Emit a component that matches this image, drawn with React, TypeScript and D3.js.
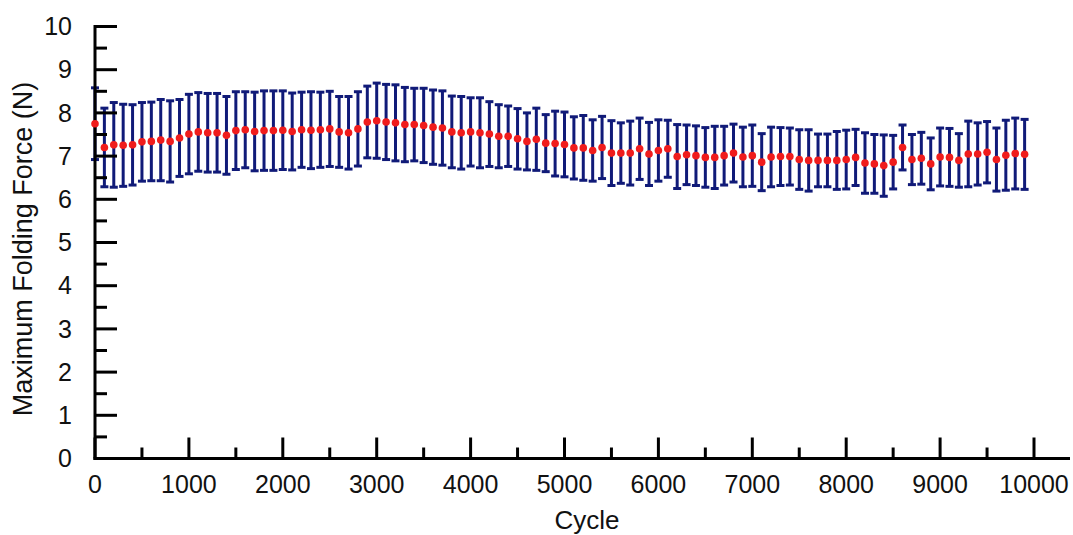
import * as d3 from "d3";

// cycle number of each measurement
const cycles = [
  0, 100, 200, 300, 400, 500, 600, 700, 800, 900,
  1000, 1100, 1200, 1300, 1400, 1500, 1600, 1700, 1800, 1900,
  2000, 2100, 2200, 2300, 2400, 2500, 2600, 2700, 2800, 2900,
  3000, 3100, 3200, 3300, 3400, 3500, 3600, 3700, 3800, 3900,
  4000, 4100, 4200, 4300, 4400, 4500, 4600, 4700, 4800, 4900,
  5000, 5100, 5200, 5300, 5400, 5500, 5600, 5700, 5800, 5900,
  6000, 6100, 6200, 6300, 6400, 6500, 6600, 6700, 6800, 6900,
  7000, 7100, 7200, 7300, 7400, 7500, 7600, 7700, 7800, 7900,
  8000, 8100, 8200, 8300, 8400, 8500, 8600, 8700, 8800, 8900,
  9000, 9100, 9200, 9300, 9400, 9500, 9600, 9700, 9800, 9900,
];

// mean maximum folding force (N)
const meanForce = [
  7.75, 7.2, 7.26, 7.25, 7.26, 7.33, 7.34, 7.37, 7.34, 7.42,
  7.51, 7.56, 7.54, 7.54, 7.48, 7.59, 7.61, 7.57, 7.59, 7.59,
  7.6, 7.57, 7.61, 7.6, 7.61, 7.63, 7.56, 7.54, 7.63, 7.79,
  7.82, 7.79, 7.77, 7.73, 7.73, 7.71, 7.67, 7.65, 7.56, 7.54,
  7.56, 7.54, 7.51, 7.46, 7.46, 7.4, 7.34, 7.39, 7.3, 7.29,
  7.27, 7.19, 7.19, 7.13, 7.2, 7.07, 7.07, 7.07, 7.17, 7.05,
  7.13, 7.17, 6.99, 7.03, 7.01, 6.97, 6.97, 7.01, 7.07, 6.98,
  7.01, 6.86, 6.98, 6.99, 6.99, 6.92, 6.9, 6.9, 6.9, 6.9,
  6.92, 6.97, 6.84, 6.82, 6.78, 6.86, 7.2, 6.92, 6.95, 6.82,
  6.98, 6.97, 6.9, 7.05, 7.05, 7.09, 6.92, 7.02, 7.06, 7.04,
];

// standard deviation (error bar half height)
const errForce = [
  0.83, 0.91, 0.98, 0.95, 0.93, 0.91, 0.91, 0.94, 0.94, 0.89,
  0.92, 0.91, 0.91, 0.91, 0.9, 0.9, 0.88, 0.91, 0.92, 0.92,
  0.91, 0.89, 0.87, 0.89, 0.87, 0.87, 0.82, 0.84, 0.86, 0.83,
  0.87, 0.87, 0.88, 0.86, 0.84, 0.86, 0.86, 0.86, 0.83, 0.84,
  0.79, 0.81, 0.75, 0.73, 0.7, 0.7, 0.66, 0.72, 0.66, 0.75,
  0.75, 0.72, 0.75, 0.71, 0.72, 0.75, 0.7, 0.74, 0.71, 0.73,
  0.71, 0.66, 0.74, 0.69, 0.69, 0.69, 0.72, 0.68, 0.67, 0.69,
  0.71, 0.66, 0.69, 0.67, 0.66, 0.69, 0.71, 0.61, 0.61, 0.67,
  0.68, 0.65, 0.7, 0.68, 0.71, 0.62, 0.52, 0.58, 0.6, 0.6,
  0.67, 0.67, 0.62, 0.76, 0.72, 0.71, 0.73, 0.81, 0.82, 0.81,
];

const xTicks = [0, 1000, 2000, 3000, 4000, 5000, 6000, 7000, 8000, 9000, 10000];
const xMinorTicks = [500, 1500, 2500, 3500, 4500, 5500, 6500, 7500, 8500, 9500];
const yTicks = [0, 1, 2, 3, 4, 5, 6, 7, 8, 9, 10];
const yMinorTicks = [0.5, 1.5, 2.5, 3.5, 4.5, 5.5, 6.5, 7.5, 8.5, 9.5];

const W = 1073;
const H = 535;

export default function App() {
  const x = d3.scaleLinear().domain([0, 10000]).range([95, 1034]);
  const y = d3.scaleLinear().domain([0, 10]).range([458.5, 26.5]);

  const font = "'Liberation Sans', Arial, sans-serif";
  const barColor = "#101a78";
  const dotColor = "#f01c1c";

  const points = cycles.map((c, i) => ({ c, m: meanForce[i], e: errForce[i] }));

  return (
    <svg
      width={W}
      height={H}
      style={{ position: "absolute", left: 0, top: 0, background: "#fff" }}
      fontFamily={font}
    >
      <rect width={W} height={H} fill="#fff" />

      {/* error bars */}
      <g stroke={barColor} strokeWidth={3}>
        {points.map((p) => (
          <g key={"e" + p.c}>
            <line x1={x(p.c)} x2={x(p.c)} y1={y(p.m + p.e)} y2={y(p.m - p.e)} />
            <line x1={x(p.c) - 4} x2={x(p.c) + 4} y1={y(p.m + p.e)} y2={y(p.m + p.e)} />
            <line x1={x(p.c) - 4} x2={x(p.c) + 4} y1={y(p.m - p.e)} y2={y(p.m - p.e)} />
          </g>
        ))}
      </g>

      {/* axes */}
      <g stroke="#000" strokeWidth={3}>
        <line x1={x(0)} x2={x(0)} y1={y(10) - 1.5} y2={y(0) + 1.5} />
        <line x1={x(0) - 1.5} x2={1070} y1={y(0)} y2={y(0)} />
        {yTicks.map((t) => (
          <line key={"yt" + t} x1={x(0)} x2={x(0) + 22} y1={y(t)} y2={y(t)} />
        ))}
        {yMinorTicks.map((t) => (
          <line key={"ym" + t} x1={x(0)} x2={x(0) + 12} y1={y(t)} y2={y(t)} />
        ))}
        {xTicks.map((t) => (
          <line key={"xt" + t} x1={x(t)} x2={x(t)} y1={y(0)} y2={y(0) - 21} />
        ))}
        {xMinorTicks.map((t) => (
          <line key={"xm" + t} x1={x(t)} x2={x(t)} y1={y(0)} y2={y(0) - 11} />
        ))}
      </g>

      {/* mean points */}
      <g fill={dotColor}>
        {points.map((p) => (
          <circle key={"d" + p.c} cx={x(p.c)} cy={y(p.m)} r={3.8} />
        ))}
      </g>

      {/* tick labels */}
      <g fontSize={25} fill="#111">
        {yTicks.map((t) => (
          <text key={"yl" + t} x={72} y={y(t)} dy="0.35em" textAnchor="end">
            {t}
          </text>
        ))}
        {xTicks.map((t) => (
          <text key={"xl" + t} x={x(t)} y={493} textAnchor="middle">
            {t}
          </text>
        ))}
      </g>

      <text x={587} y={529} textAnchor="middle" fontSize={26} fill="#111">
        Cycle
      </text>
      <text
        transform={`translate(32,${249}) rotate(-90)`}
        textAnchor="middle"
        fontSize={27}
        fill="#111"
      >
        Maximum Folding Force (N)
      </text>
    </svg>
  );
}
